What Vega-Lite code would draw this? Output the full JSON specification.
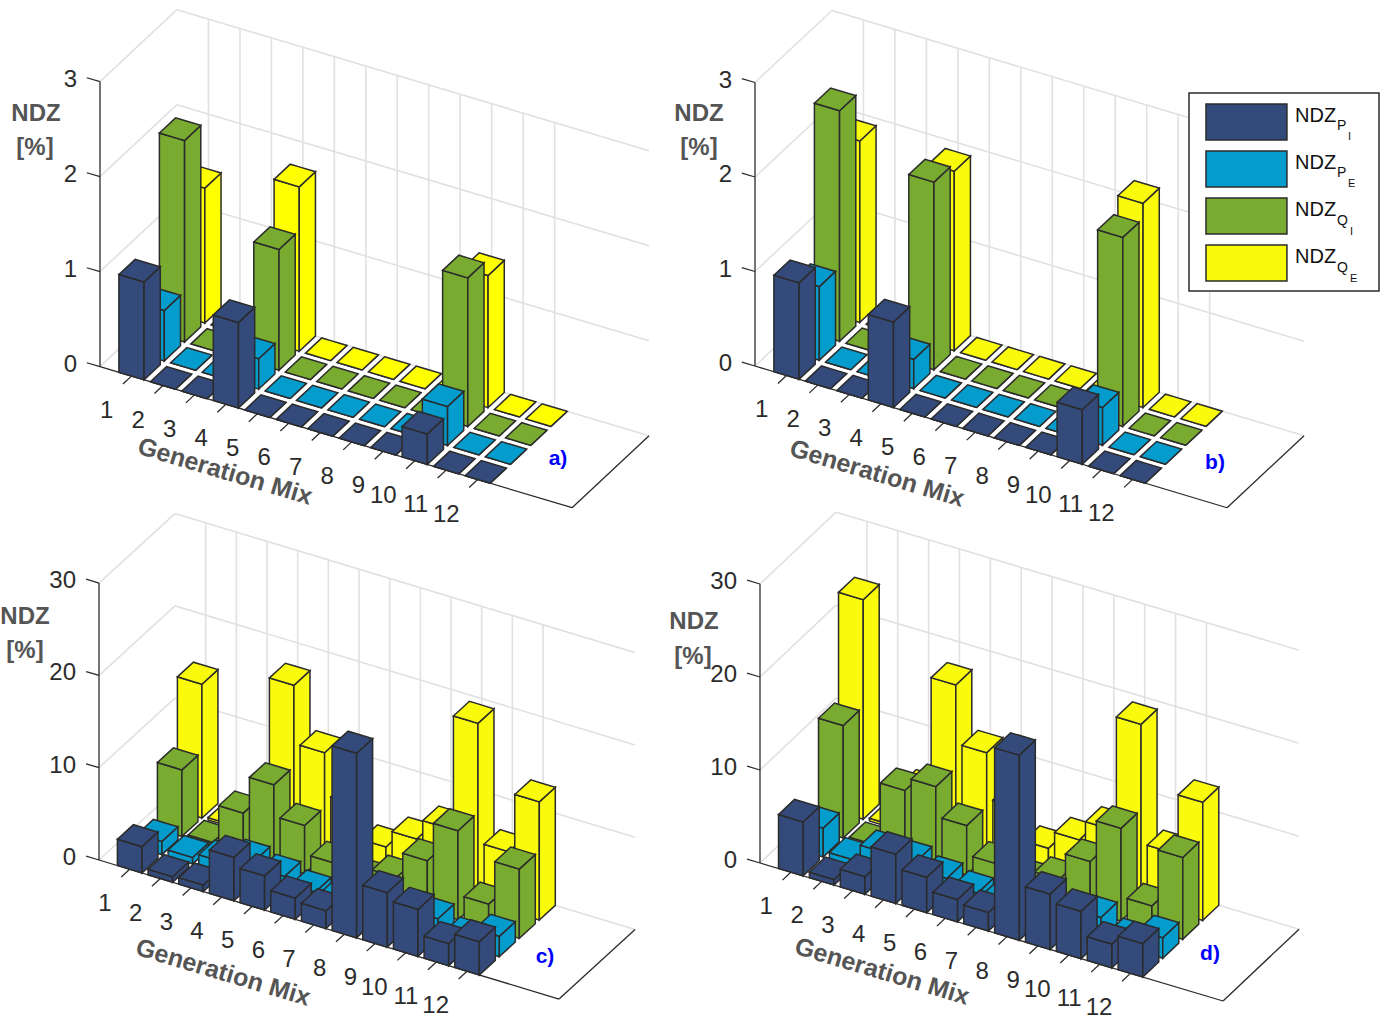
{"$schema":"https://vega.github.io/schema/vega-lite/v6.json","width":1394,"height":1021,"autosize":{"type":"none"},"padding":0,"background":"white","config":{"view":{"stroke":null},"font":"Liberation Sans"},
"params":[{"name":"proj","value":{
"a":{"ox":100,"oy":366.7,"mx":31.47,"my":9.4,"sx":20.26,"sy":18.95,"zs":95,"zmax":3,"NDZX":36,"NDZY":114,"PctX":35,"PctY":148,"GenX":225,"GenY":471.5,"TagX":558,"TagY":459},
"b":{"ox":755,"oy":366,"mx":31.47,"my":9.45,"sx":20.26,"sy":18.95,"zs":94.5,"zmax":3,"NDZX":699,"NDZY":114,"PctX":699,"PctY":148,"GenX":877,"GenY":473.5,"TagX":1215,"TagY":463},
"c":{"ox":99,"oy":860,"mx":30.67,"my":9.27,"sx":20,"sy":18.3,"zs":9.23,"zmax":30,"NDZX":25,"NDZY":617,"PctX":25,"PctY":651,"GenX":223,"GenY":972.5,"TagX":545,"TagY":957},
"d":{"ox":760,"oy":863,"mx":30.87,"my":9.2,"sx":20,"sy":18.9,"zs":9.3,"zmax":30,"NDZX":694,"NDZY":622,"PctX":693,"PctY":657,"GenX":882,"GenY":971.5,"TagX":1210,"TagY":954}}}],
"datasets":{
"ticks":[
{"panel":"a","axis":"frame","tick":0},{"panel":"b","axis":"frame","tick":0},{"panel":"c","axis":"frame","tick":0},{"panel":"d","axis":"frame","tick":0},
{"panel":"a","axis":"z","tick":0},{"panel":"a","axis":"z","tick":1},{"panel":"a","axis":"z","tick":2},{"panel":"a","axis":"z","tick":3},
{"panel":"b","axis":"z","tick":0},{"panel":"b","axis":"z","tick":1},{"panel":"b","axis":"z","tick":2},{"panel":"b","axis":"z","tick":3},
{"panel":"c","axis":"z","tick":0},{"panel":"c","axis":"z","tick":10},{"panel":"c","axis":"z","tick":20},{"panel":"c","axis":"z","tick":30},
{"panel":"d","axis":"z","tick":0},{"panel":"d","axis":"z","tick":10},{"panel":"d","axis":"z","tick":20},{"panel":"d","axis":"z","tick":30},
{"panel":"a","axis":"m","tick":1},{"panel":"a","axis":"m","tick":2},{"panel":"a","axis":"m","tick":3},{"panel":"a","axis":"m","tick":4},{"panel":"a","axis":"m","tick":5},{"panel":"a","axis":"m","tick":6},{"panel":"a","axis":"m","tick":7},{"panel":"a","axis":"m","tick":8},{"panel":"a","axis":"m","tick":9},{"panel":"a","axis":"m","tick":10},{"panel":"a","axis":"m","tick":11},{"panel":"a","axis":"m","tick":12},
{"panel":"b","axis":"m","tick":1},{"panel":"b","axis":"m","tick":2},{"panel":"b","axis":"m","tick":3},{"panel":"b","axis":"m","tick":4},{"panel":"b","axis":"m","tick":5},{"panel":"b","axis":"m","tick":6},{"panel":"b","axis":"m","tick":7},{"panel":"b","axis":"m","tick":8},{"panel":"b","axis":"m","tick":9},{"panel":"b","axis":"m","tick":10},{"panel":"b","axis":"m","tick":11},{"panel":"b","axis":"m","tick":12},
{"panel":"c","axis":"m","tick":1},{"panel":"c","axis":"m","tick":2},{"panel":"c","axis":"m","tick":3},{"panel":"c","axis":"m","tick":4},{"panel":"c","axis":"m","tick":5},{"panel":"c","axis":"m","tick":6},{"panel":"c","axis":"m","tick":7},{"panel":"c","axis":"m","tick":8},{"panel":"c","axis":"m","tick":9},{"panel":"c","axis":"m","tick":10},{"panel":"c","axis":"m","tick":11},{"panel":"c","axis":"m","tick":12},
{"panel":"d","axis":"m","tick":1},{"panel":"d","axis":"m","tick":2},{"panel":"d","axis":"m","tick":3},{"panel":"d","axis":"m","tick":4},{"panel":"d","axis":"m","tick":5},{"panel":"d","axis":"m","tick":6},{"panel":"d","axis":"m","tick":7},{"panel":"d","axis":"m","tick":8},{"panel":"d","axis":"m","tick":9},{"panel":"d","axis":"m","tick":10},{"panel":"d","axis":"m","tick":11},{"panel":"d","axis":"m","tick":12}
],
"titles":[
{"panel":"a","role":"NDZ","label":"NDZ"},{"panel":"b","role":"NDZ","label":"NDZ"},{"panel":"c","role":"NDZ","label":"NDZ"},{"panel":"d","role":"NDZ","label":"NDZ"},
{"panel":"a","role":"Pct","label":"[%]"},{"panel":"b","role":"Pct","label":"[%]"},{"panel":"c","role":"Pct","label":"[%]"},{"panel":"d","role":"Pct","label":"[%]"},
{"panel":"a","role":"Gen","label":"Generation Mix"},{"panel":"b","role":"Gen","label":"Generation Mix"},{"panel":"c","role":"Gen","label":"Generation Mix"},{"panel":"d","role":"Gen","label":"Generation Mix"},
{"panel":"a","role":"Tag","label":"a)"},{"panel":"b","role":"Tag","label":"b)"},{"panel":"c","role":"Tag","label":"c)"},{"panel":"d","role":"Tag","label":"d)"}
],
"subs":[{"series":"PI","sub":"P","subsub":"I"},{"series":"PE","sub":"P","subsub":"E"},{"series":"QI","sub":"Q","subsub":"I"},{"series":"QE","sub":"Q","subsub":"E"}],
"bars":[
{"panel":"a","mix":1,"series":"QE","value":1.42},{"panel":"a","mix":2,"series":"QE","value":0},{"panel":"a","mix":3,"series":"QE","value":0},{"panel":"a","mix":4,"series":"QE","value":1.73},{"panel":"a","mix":5,"series":"QE","value":0},{"panel":"a","mix":6,"series":"QE","value":0},{"panel":"a","mix":7,"series":"QE","value":0},{"panel":"a","mix":8,"series":"QE","value":0},{"panel":"a","mix":9,"series":"QE","value":0},{"panel":"a","mix":10,"series":"QE","value":1.39},{"panel":"a","mix":11,"series":"QE","value":0},{"panel":"a","mix":12,"series":"QE","value":0},
{"panel":"a","mix":1,"series":"QI","value":2.12},{"panel":"a","mix":2,"series":"QI","value":0},{"panel":"a","mix":3,"series":"QI","value":0},{"panel":"a","mix":4,"series":"QI","value":1.27},{"panel":"a","mix":5,"series":"QI","value":0},{"panel":"a","mix":6,"series":"QI","value":0},{"panel":"a","mix":7,"series":"QI","value":0},{"panel":"a","mix":8,"series":"QI","value":0},{"panel":"a","mix":9,"series":"QI","value":0},{"panel":"a","mix":10,"series":"QI","value":1.565},{"panel":"a","mix":11,"series":"QI","value":0},{"panel":"a","mix":12,"series":"QI","value":0},
{"panel":"a","mix":1,"series":"PE","value":0.53},{"panel":"a","mix":2,"series":"PE","value":0},{"panel":"a","mix":3,"series":"PE","value":0},{"panel":"a","mix":4,"series":"PE","value":0.32},{"panel":"a","mix":5,"series":"PE","value":0},{"panel":"a","mix":6,"series":"PE","value":0},{"panel":"a","mix":7,"series":"PE","value":0},{"panel":"a","mix":8,"series":"PE","value":0},{"panel":"a","mix":9,"series":"PE","value":0},{"panel":"a","mix":10,"series":"PE","value":0.41},{"panel":"a","mix":11,"series":"PE","value":0},{"panel":"a","mix":12,"series":"PE","value":0},
{"panel":"a","mix":1,"series":"PI","value":1.03},{"panel":"a","mix":2,"series":"PI","value":0},{"panel":"a","mix":3,"series":"PI","value":0},{"panel":"a","mix":4,"series":"PI","value":0.9},{"panel":"a","mix":5,"series":"PI","value":0},{"panel":"a","mix":6,"series":"PI","value":0},{"panel":"a","mix":7,"series":"PI","value":0},{"panel":"a","mix":8,"series":"PI","value":0},{"panel":"a","mix":9,"series":"PI","value":0},{"panel":"a","mix":10,"series":"PI","value":0.32},{"panel":"a","mix":11,"series":"PI","value":0},{"panel":"a","mix":12,"series":"PI","value":0},
{"panel":"b","mix":1,"series":"QE","value":1.92},{"panel":"b","mix":2,"series":"QE","value":0},{"panel":"b","mix":3,"series":"QE","value":0},{"panel":"b","mix":4,"series":"QE","value":1.9},{"panel":"b","mix":5,"series":"QE","value":0},{"panel":"b","mix":6,"series":"QE","value":0},{"panel":"b","mix":7,"series":"QE","value":0},{"panel":"b","mix":8,"series":"QE","value":0},{"panel":"b","mix":9,"series":"QE","value":0},{"panel":"b","mix":10,"series":"QE","value":2.16},{"panel":"b","mix":11,"series":"QE","value":0},{"panel":"b","mix":12,"series":"QE","value":0},
{"panel":"b","mix":1,"series":"QI","value":2.44},{"panel":"b","mix":2,"series":"QI","value":0},{"panel":"b","mix":3,"series":"QI","value":0},{"panel":"b","mix":4,"series":"QI","value":1.985},{"panel":"b","mix":5,"series":"QI","value":0},{"panel":"b","mix":6,"series":"QI","value":0},{"panel":"b","mix":7,"series":"QI","value":0},{"panel":"b","mix":8,"series":"QI","value":0},{"panel":"b","mix":9,"series":"QI","value":0},{"panel":"b","mix":10,"series":"QI","value":2},{"panel":"b","mix":11,"series":"QI","value":0},{"panel":"b","mix":12,"series":"QI","value":0},
{"panel":"b","mix":1,"series":"PE","value":0.78},{"panel":"b","mix":2,"series":"PE","value":0},{"panel":"b","mix":3,"series":"PE","value":0},{"panel":"b","mix":4,"series":"PE","value":0.31},{"panel":"b","mix":5,"series":"PE","value":0},{"panel":"b","mix":6,"series":"PE","value":0},{"panel":"b","mix":7,"series":"PE","value":0},{"panel":"b","mix":8,"series":"PE","value":0},{"panel":"b","mix":9,"series":"PE","value":0},{"panel":"b","mix":10,"series":"PE","value":0.4},{"panel":"b","mix":11,"series":"PE","value":0},{"panel":"b","mix":12,"series":"PE","value":0},
{"panel":"b","mix":1,"series":"PI","value":1.02},{"panel":"b","mix":2,"series":"PI","value":0},{"panel":"b","mix":3,"series":"PI","value":0},{"panel":"b","mix":4,"series":"PI","value":0.905},{"panel":"b","mix":5,"series":"PI","value":0},{"panel":"b","mix":6,"series":"PI","value":0},{"panel":"b","mix":7,"series":"PI","value":0},{"panel":"b","mix":8,"series":"PI","value":0},{"panel":"b","mix":9,"series":"PI","value":0},{"panel":"b","mix":10,"series":"PI","value":0.577},{"panel":"b","mix":11,"series":"PI","value":0},{"panel":"b","mix":12,"series":"PI","value":0},
{"panel":"c","mix":1,"series":"QE","value":14.5},{"panel":"c","mix":2,"series":"QE","value":0.25},{"panel":"c","mix":3,"series":"QE","value":0.3},{"panel":"c","mix":4,"series":"QE","value":17.4},{"panel":"c","mix":5,"series":"QE","value":11.1},{"panel":"c","mix":6,"series":"QE","value":6.5},{"panel":"c","mix":7,"series":"QE","value":2.9},{"panel":"c","mix":8,"series":"QE","value":4.76},{"panel":"c","mix":9,"series":"QE","value":6.95},{"panel":"c","mix":10,"series":"QE","value":19.3},{"panel":"c","mix":11,"series":"QE","value":6.4},{"panel":"c","mix":12,"series":"QE","value":12.8},
{"panel":"c","mix":1,"series":"QI","value":7.2},{"panel":"c","mix":2,"series":"QI","value":0.35},{"panel":"c","mix":3,"series":"QI","value":4.53},{"panel":"c","mix":4,"series":"QI","value":8.6},{"panel":"c","mix":5,"series":"QI","value":5.2},{"panel":"c","mix":6,"series":"QI","value":2.1},{"panel":"c","mix":7,"series":"QI","value":1.5},{"panel":"c","mix":8,"series":"QI","value":2.6},{"panel":"c","mix":9,"series":"QI","value":5.4},{"panel":"c","mix":10,"series":"QI","value":9.65},{"panel":"c","mix":11,"series":"QI","value":2.7},{"panel":"c","mix":12,"series":"QI","value":7.5},
{"panel":"c","mix":1,"series":"PE","value":1.44},{"panel":"c","mix":2,"series":"PE","value":0.7},{"panel":"c","mix":3,"series":"PE","value":1.2},{"panel":"c","mix":4,"series":"PE","value":2.29},{"panel":"c","mix":5,"series":"PE","value":1.67},{"panel":"c","mix":6,"series":"PE","value":0.98},{"panel":"c","mix":7,"series":"PE","value":1.2},{"panel":"c","mix":8,"series":"PE","value":1},{"panel":"c","mix":9,"series":"PE","value":1.5},{"panel":"c","mix":10,"series":"PE","value":2.1},{"panel":"c","mix":11,"series":"PE","value":0.9},{"panel":"c","mix":12,"series":"PE","value":2.2},
{"panel":"c","mix":1,"series":"PI","value":2.85},{"panel":"c","mix":2,"series":"PI","value":0.6},{"panel":"c","mix":3,"series":"PI","value":0.7},{"panel":"c","mix":4,"series":"PI","value":4.7},{"panel":"c","mix":5,"series":"PI","value":3.7},{"panel":"c","mix":6,"series":"PI","value":2.3},{"panel":"c","mix":7,"series":"PI","value":1.94},{"panel":"c","mix":8,"series":"PI","value":20},{"panel":"c","mix":9,"series":"PI","value":5.9},{"panel":"c","mix":10,"series":"PI","value":5.1},{"panel":"c","mix":11,"series":"PI","value":2.4},{"panel":"c","mix":12,"series":"PI","value":3.6},
{"panel":"d","mix":1,"series":"QE","value":23.6},{"panel":"d","mix":2,"series":"QE","value":0.3},{"panel":"d","mix":3,"series":"QE","value":4.9},{"panel":"d","mix":4,"series":"QE","value":17.4},{"panel":"d","mix":5,"series":"QE","value":11.1},{"panel":"d","mix":6,"series":"QE","value":6.2},{"panel":"d","mix":7,"series":"QE","value":2.8},{"panel":"d","mix":8,"series":"QE","value":4.7},{"panel":"d","mix":9,"series":"QE","value":6.85},{"panel":"d","mix":10,"series":"QE","value":19.1},{"panel":"d","mix":11,"series":"QE","value":6.3},{"panel":"d","mix":12,"series":"QE","value":12.7},
{"panel":"d","mix":1,"series":"QI","value":12.1},{"panel":"d","mix":2,"series":"QI","value":0.3},{"panel":"d","mix":3,"series":"QI","value":7.1},{"panel":"d","mix":4,"series":"QI","value":8.5},{"panel":"d","mix":5,"series":"QI","value":5.3},{"panel":"d","mix":6,"series":"QI","value":2.16},{"panel":"d","mix":7,"series":"QI","value":1.5},{"panel":"d","mix":8,"series":"QI","value":2.5},{"panel":"d","mix":9,"series":"QI","value":5.4},{"panel":"d","mix":10,"series":"QI","value":9.95},{"panel":"d","mix":11,"series":"QI","value":2.6},{"panel":"d","mix":12,"series":"QI","value":8.8},
{"panel":"d","mix":1,"series":"PE","value":3.1},{"panel":"d","mix":2,"series":"PE","value":0.66},{"panel":"d","mix":3,"series":"PE","value":2.45},{"panel":"d","mix":4,"series":"PE","value":2.45},{"panel":"d","mix":5,"series":"PE","value":1.65},{"panel":"d","mix":6,"series":"PE","value":1.06},{"panel":"d","mix":7,"series":"PE","value":1.2},{"panel":"d","mix":8,"series":"PE","value":1},{"panel":"d","mix":9,"series":"PE","value":1.5},{"panel":"d","mix":10,"series":"PE","value":2.4},{"panel":"d","mix":11,"series":"PE","value":0.9},{"panel":"d","mix":12,"series":"PE","value":2.2},
{"panel":"d","mix":1,"series":"PI","value":5.8},{"panel":"d","mix":2,"series":"PI","value":0.6},{"panel":"d","mix":3,"series":"PI","value":1.9},{"panel":"d","mix":4,"series":"PI","value":5.3},{"panel":"d","mix":5,"series":"PI","value":3.8},{"panel":"d","mix":6,"series":"PI","value":2.4},{"panel":"d","mix":7,"series":"PI","value":2},{"panel":"d","mix":8,"series":"PI","value":19.9},{"panel":"d","mix":9,"series":"PI","value":5.95},{"panel":"d","mix":10,"series":"PI","value":5.09},{"panel":"d","mix":11,"series":"PI","value":2.56},{"panel":"d","mix":12,"series":"PI","value":3.6}
]},
"layer":[
{"data":{"name":"ticks"},
"transform":[{"calculate":"proj[datum.panel]","as":"p"},
{"calculate":"datum.axis=='z' ? [{k:'g',m0:0,s0:4.4,z0:datum.tick,m1:15,s1:4.4,z1:datum.tick},{k:'g',m0:0,s0:0.6,z0:datum.tick,m1:0,s1:4.4,z1:datum.tick},{k:'d',m0:0,s0:0.6,z0:datum.tick,m1:-0.42,s1:0.6,z1:datum.tick}] : datum.axis=='m' ? [{k:'g',m0:datum.tick,s0:4.4,z0:0,m1:datum.tick,s1:4.4,z1:datum.p.zmax},{k:'d',m0:datum.tick,s0:0.6,z0:0,m1:datum.tick,s1:0.18,z1:0}] : [{k:'d',m0:0,s0:0.6,z0:0,m1:0,s1:0.6,z1:datum.p.zmax},{k:'d',m0:0,s0:0.6,z0:0,m1:15,s1:0.6,z1:0},{k:'d',m0:15,s0:0.6,z0:0,m1:15,s1:4.4,z1:0}]","as":"g"},
{"flatten":["g"]},{"filter":"datum.g.k=='g'"},
{"calculate":"datum.p.ox+datum.p.mx*datum.g.m0+datum.p.sx*(datum.g.s0-0.6)","as":"X0"},
{"calculate":"datum.p.oy+datum.p.my*datum.g.m0-datum.p.sy*(datum.g.s0-0.6)-datum.p.zs*datum.g.z0","as":"Y0"},
{"calculate":"datum.p.ox+datum.p.mx*datum.g.m1+datum.p.sx*(datum.g.s1-0.6)","as":"X1"},
{"calculate":"datum.p.oy+datum.p.my*datum.g.m1-datum.p.sy*(datum.g.s1-0.6)-datum.p.zs*datum.g.z1","as":"Y1"}],
"mark":{"type":"rule","stroke":"#e1e1e1","strokeWidth":1.6},
"encoding":{"x":{"field":"X0","type":"quantitative","scale":{"domain":[0,1394],"range":[0,1394],"nice":false,"zero":false},"axis":null},"y":{"field":"Y0","type":"quantitative","scale":{"domain":[0,1021],"range":[0,1021],"nice":false,"zero":false},"axis":null},"x2":{"field":"X1"},"y2":{"field":"Y1"}}},
{"data":{"name":"ticks"},
"transform":[{"calculate":"proj[datum.panel]","as":"p"},
{"calculate":"datum.axis=='z' ? [{k:'g',m0:0,s0:4.4,z0:datum.tick,m1:15,s1:4.4,z1:datum.tick},{k:'g',m0:0,s0:0.6,z0:datum.tick,m1:0,s1:4.4,z1:datum.tick},{k:'d',m0:0,s0:0.6,z0:datum.tick,m1:-0.42,s1:0.6,z1:datum.tick}] : datum.axis=='m' ? [{k:'g',m0:datum.tick,s0:4.4,z0:0,m1:datum.tick,s1:4.4,z1:datum.p.zmax},{k:'d',m0:datum.tick,s0:0.6,z0:0,m1:datum.tick,s1:0.18,z1:0}] : [{k:'d',m0:0,s0:0.6,z0:0,m1:0,s1:0.6,z1:datum.p.zmax},{k:'d',m0:0,s0:0.6,z0:0,m1:15,s1:0.6,z1:0},{k:'d',m0:15,s0:0.6,z0:0,m1:15,s1:4.4,z1:0}]","as":"g"},
{"flatten":["g"]},{"filter":"datum.g.k=='d'"},
{"calculate":"datum.p.ox+datum.p.mx*datum.g.m0+datum.p.sx*(datum.g.s0-0.6)","as":"X0"},
{"calculate":"datum.p.oy+datum.p.my*datum.g.m0-datum.p.sy*(datum.g.s0-0.6)-datum.p.zs*datum.g.z0","as":"Y0"},
{"calculate":"datum.p.ox+datum.p.mx*datum.g.m1+datum.p.sx*(datum.g.s1-0.6)","as":"X1"},
{"calculate":"datum.p.oy+datum.p.my*datum.g.m1-datum.p.sy*(datum.g.s1-0.6)-datum.p.zs*datum.g.z1","as":"Y1"}],
"mark":{"type":"rule","stroke":"#2b2b2b","strokeWidth":1.3},
"encoding":{"x":{"field":"X0","type":"quantitative","scale":{"domain":[0,1394],"range":[0,1394],"nice":false,"zero":false},"axis":null},"y":{"field":"Y0","type":"quantitative","scale":{"domain":[0,1021],"range":[0,1021],"nice":false,"zero":false},"axis":null},"x2":{"field":"X1"},"y2":{"field":"Y1"}}},
{"data":{"name":"ticks"},
"transform":[{"filter":"datum.axis=='z'"},{"calculate":"proj[datum.panel]","as":"p"},{"calculate":"datum.p.ox-23","as":"X"},{"calculate":"datum.p.oy-datum.p.zs*datum.tick-2","as":"Y"}],
"mark":{"type":"text","align":"right","baseline":"middle","fontSize":24,"fill":"#2b2b2b"},
"encoding":{"x":{"field":"X","type":"quantitative","axis":null},"y":{"field":"Y","type":"quantitative","axis":null},"text":{"field":"tick","type":"nominal"}}},
{"data":{"name":"ticks"},
"transform":[{"filter":"datum.axis=='m'"},{"calculate":"proj[datum.panel]","as":"p"},{"calculate":"datum.p.ox+datum.p.mx*datum.tick-18","as":"X"},{"calculate":"datum.p.oy+datum.p.my*datum.tick+35","as":"Y"}],
"mark":{"type":"text","align":"right","baseline":"middle","fontSize":24,"fill":"#2b2b2b"},
"encoding":{"x":{"field":"X","type":"quantitative","axis":null},"y":{"field":"Y","type":"quantitative","axis":null},"text":{"field":"tick","type":"nominal"}}},
{"data":{"name":"bars"},
"transform":[{"calculate":"proj[datum.panel]","as":"p"},
{"calculate":"indexof(['PI','PE','QI','QE'],datum.series)+1","as":"s"},
{"calculate":"datum.p.sx/datum.p.mx*0.8","as":"r"},
{"calculate":"datum.panel=='a'&&datum.series=='QE'?'QEa':datum.series","as":"ck"},
{"calculate":"[{f:'F',a:-0.4,b:-0.4,c:-0.4,d:-0.4,u:1,l:0},{f:'F',a:0.4,b:-0.4,c:0.4,d:-0.4,u:1,l:0},{f:'S',a:0.4,b:-0.4,c:0.4,d:-0.4,u:1,l:0},{f:'S',a:0.4,b:0.4,c:0.4,d:0.4,u:1,l:0},{f:'T',a:-0.4,b:-0.4,c:-0.4,d:-0.4,u:1,l:1},{f:'T',a:-0.4,b:0.4,c:-0.4+datum.r,d:-0.4,u:1,l:1},{f:'T',a:0.4-datum.r,b:0.4,c:0.4,d:-0.4,u:1,l:1},{f:'T',a:0.4,b:0.4,c:0.4,d:0.4,u:1,l:1}]","as":"v"},
{"flatten":["v"]},
{"calculate":"datum.p.ox+datum.p.mx*(datum.mix+datum.v.a)+datum.p.sx*(datum.s+datum.v.b-0.6)","as":"X"},
{"calculate":"datum.p.oy+datum.p.my*(datum.mix+datum.v.a)-datum.p.sy*(datum.s+datum.v.b-0.6)-datum.p.zs*datum.value*datum.v.u","as":"Yu"},
{"calculate":"datum.p.oy+datum.p.my*(datum.mix+datum.v.c)-datum.p.sy*(datum.s+datum.v.d-0.6)-datum.p.zs*datum.value*datum.v.l","as":"Yl"},
{"calculate":"datum.panel+'-'+datum.mix+'-'+datum.series+'-'+datum.v.f","as":"gid"}],
"mark":{"type":"area","orient":"vertical","stroke":"#2b2b2b","strokeWidth":1.5,"strokeJoin":"miter","opacity":1,"fillOpacity":1,"clip":false},
"encoding":{"x":{"field":"X","type":"quantitative","scale":{"domain":[0,1394],"range":[0,1394],"nice":false,"zero":false},"axis":null},"y":{"field":"Yu","type":"quantitative","scale":{"domain":[0,1021],"range":[0,1021],"nice":false,"zero":false},"axis":null,"stack":null},"y2":{"field":"Yl"},"detail":{"field":"gid"},
"fill":{"field":"ck","type":"nominal","scale":{"domain":["PI","PE","QI","QE","QEa"],"range":["#334a7b","#049ccd","#78ab30","#f9fa0c","#ffff00"]},
"legend":{"orient":"none","legendX":1189,"legendY":93,"title":null,"values":["PI","PE","QI","QE"],"padding":10,"rowPadding":5,"symbolType":"M-0.667,-1L3.83,-1L3.83,1L-0.667,1Z","symbolSize":1296,"symbolStrokeColor":"#2b2b2b","symbolStrokeWidth":1.5,"symbolOpacity":1,"labelExpr":"'NDZ'","labelFontSize":20,"labelFont":"Liberation Sans","labelColor":"#111111","labelBaseline":"alphabetic","labelOffset":58,"labelLimit":200}}}},
{"data":{"values":[{"box":"legend"}]},"transform":[{"calculate":"1189","as":"X"},{"calculate":"1379","as":"X1"},{"calculate":"93","as":"Y"},{"calculate":"291","as":"Y1"}],
"mark":{"type":"rect","fill":"white","stroke":"#2b2b2b","strokeWidth":1.5},
"encoding":{"x":{"field":"X","type":"quantitative","axis":null},"x2":{"field":"X1"},"y":{"field":"Y","type":"quantitative","axis":null},"y2":{"field":"Y1"}}},
{"data":{"name":"titles"},"transform":[{"filter":"datum.role=='NDZ'||datum.role=='Pct'"},{"calculate":"proj[datum.panel]","as":"p"},{"calculate":"datum.p[datum.role+'X']","as":"X"},{"calculate":"datum.p[datum.role+'Y']","as":"Y"}],
"mark":{"type":"text","align":"center","baseline":"middle","fontSize":24,"fontWeight":"bold","fill":"#555555"},
"encoding":{"x":{"field":"X","type":"quantitative","axis":null},"y":{"field":"Y","type":"quantitative","axis":null},"text":{"field":"label","type":"nominal"}}},
{"data":{"name":"titles"},"transform":[{"filter":"datum.role=='Gen'"},{"calculate":"proj[datum.panel]","as":"p"},{"calculate":"datum.p[datum.role+'X']","as":"X"},{"calculate":"datum.p[datum.role+'Y']","as":"Y"}],
"mark":{"type":"text","align":"center","baseline":"middle","fontSize":25,"fontWeight":"bold","fill":"#555555","angle":16.6},
"encoding":{"x":{"field":"X","type":"quantitative","axis":null},"y":{"field":"Y","type":"quantitative","axis":null},"text":{"field":"label","type":"nominal"}}},
{"data":{"name":"titles"},"transform":[{"filter":"datum.role=='Tag'"},{"calculate":"proj[datum.panel]","as":"p"},{"calculate":"datum.p[datum.role+'X']","as":"X"},{"calculate":"datum.p[datum.role+'Y']","as":"Y"}],
"mark":{"type":"text","align":"center","baseline":"middle","fontSize":21,"fontWeight":"bold","fill":"#0000ff"},
"encoding":{"x":{"field":"X","type":"quantitative","axis":null},"y":{"field":"Y","type":"quantitative","axis":null},"text":{"field":"label","type":"nominal"}}},
{"data":{"name":"subs"},"transform":[{"calculate":"indexof(['PI','PE','QI','QE'],datum.series)","as":"i"},{"calculate":"1337","as":"X"},{"calculate":"125.7+47.5*datum.i","as":"Y"}],
"mark":{"type":"text","align":"left","baseline":"middle","fontSize":14,"fill":"#111111"},
"encoding":{"x":{"field":"X","type":"quantitative","axis":null},"y":{"field":"Y","type":"quantitative","axis":null},"text":{"field":"sub","type":"nominal"}}},
{"data":{"name":"subs"},"transform":[{"calculate":"indexof(['PI','PE','QI','QE'],datum.series)","as":"i"},{"calculate":"datum.i<2?1348:1350","as":"X"},{"calculate":"136.5+47.5*datum.i","as":"Y"}],
"mark":{"type":"text","align":"left","baseline":"middle","fontSize":11,"fill":"#111111"},
"encoding":{"x":{"field":"X","type":"quantitative","axis":null},"y":{"field":"Y","type":"quantitative","axis":null},"text":{"field":"subsub","type":"nominal"}}}
]}
